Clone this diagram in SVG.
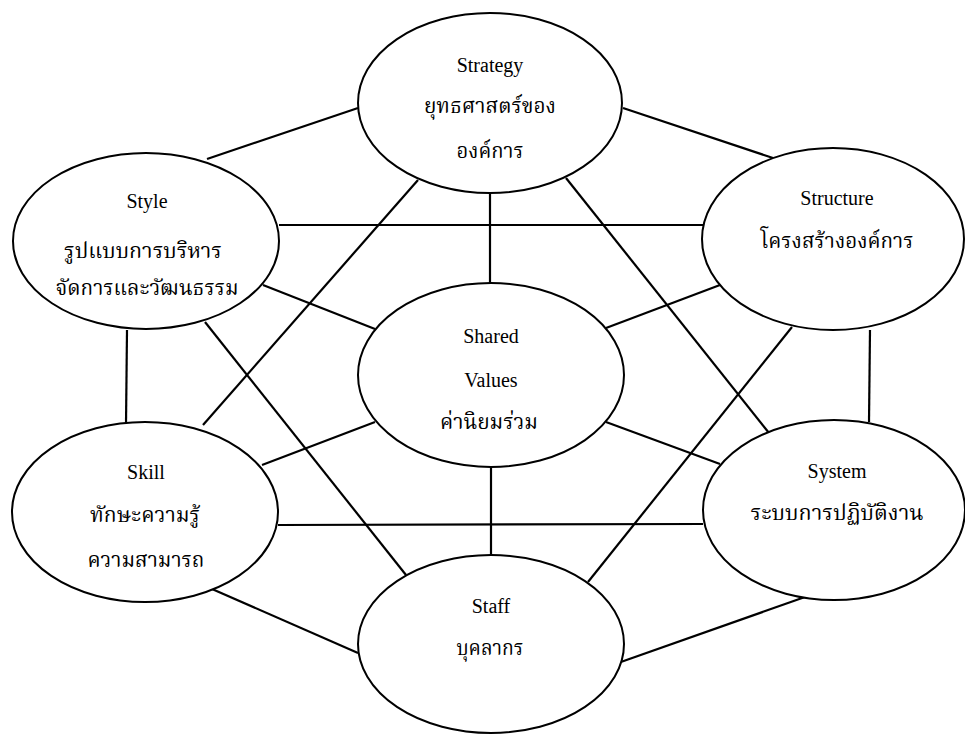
<svg xmlns="http://www.w3.org/2000/svg" width="965" height="734" viewBox="0 0 965 734">
<style>
  .bg { fill: #ffffff; }
  .node ellipse { fill: #ffffff; stroke: #000000; stroke-width: 2; }
  .conn line { stroke: #000000; stroke-width: 2.2; stroke-linecap: butt; }
  .en { font-family: "Liberation Serif", "Times New Roman", serif; font-size: 20px; fill: #000; text-anchor: middle; }
  .th { font-family: "Noto Serif Thai", "Noto Sans Thai", "Liberation Serif", "DejaVu Serif", serif; font-size: 21px; fill: #000; text-anchor: middle; }
</style>
<rect class="bg" x="0" y="0" width="965" height="734"/>
<g id="connectors" class="conn">
  <line x1="207" y1="159" x2="358" y2="108"/>
  <line x1="623" y1="108" x2="773" y2="158"/>
  <line x1="279" y1="225" x2="709" y2="225"/>
  <line x1="490" y1="193" x2="490" y2="283"/>
  <line x1="418" y1="180" x2="203" y2="425"/>
  <line x1="566" y1="178" x2="769" y2="433"/>
  <line x1="263" y1="285" x2="375" y2="329"/>
  <line x1="205" y1="322" x2="406" y2="575"/>
  <line x1="127" y1="330" x2="126" y2="424"/>
  <line x1="720" y1="285" x2="606" y2="328"/>
  <line x1="792" y1="327" x2="588" y2="582"/>
  <line x1="870" y1="330" x2="869" y2="422"/>
  <line x1="375" y1="422" x2="262" y2="465"/>
  <line x1="606" y1="422" x2="720" y2="464"/>
  <line x1="491" y1="467" x2="491" y2="555"/>
  <line x1="278" y1="525" x2="703" y2="524"/>
  <line x1="212" y1="589" x2="358" y2="653"/>
  <line x1="805" y1="597" x2="618" y2="663"/>
</g>
<g id="strategy" class="node">
  <ellipse cx="490" cy="103" rx="132" ry="90"/>
  <text class="en" x="490" y="72">Strategy</text>
  <text class="th" x="490" y="113" textLength="132" lengthAdjust="spacingAndGlyphs">ยุทธศาสตร์ของ</text>
  <text class="th" x="490" y="158" textLength="67" lengthAdjust="spacingAndGlyphs">องค์การ</text>
</g>
<g id="style" class="node">
  <ellipse cx="146" cy="241" rx="133" ry="88"/>
  <text class="en" x="147" y="208">Style</text>
  <text class="th" x="143" y="258" textLength="158" lengthAdjust="spacingAndGlyphs">รูปแบบการบริหาร</text>
  <text class="th" x="147" y="295" textLength="183" lengthAdjust="spacingAndGlyphs">จัดการและวัฒนธรรม</text>
</g>
<g id="structure" class="node">
  <ellipse cx="833" cy="239" rx="131" ry="91"/>
  <text class="en" x="837" y="205">Structure</text>
  <text class="th" x="837" y="248" textLength="153" lengthAdjust="spacingAndGlyphs">โครงสร้างองค์การ</text>
</g>
<g id="shared-values" class="node">
  <ellipse cx="491" cy="375" rx="133" ry="92"/>
  <text class="en" x="491" y="343">Shared</text>
  <text class="en" x="491" y="387">Values</text>
  <text class="th" x="489" y="429" textLength="98" lengthAdjust="spacingAndGlyphs">ค่านิยมร่วม</text>
</g>
<g id="skill" class="node">
  <ellipse cx="145" cy="512" rx="133" ry="90"/>
  <text class="en" x="146" y="479">Skill</text>
  <text class="th" x="145" y="522" textLength="110" lengthAdjust="spacingAndGlyphs">ทักษะความรู้</text>
  <text class="th" x="146" y="567" textLength="117" lengthAdjust="spacingAndGlyphs">ความสามารถ</text>
</g>
<g id="system" class="node">
  <ellipse cx="834" cy="510" rx="131" ry="90"/>
  <text class="en" x="837" y="478">System</text>
  <text class="th" x="837" y="520" textLength="173" lengthAdjust="spacingAndGlyphs">ระบบการปฏิบัติงาน</text>
</g>
<g id="staff" class="node">
  <ellipse cx="491" cy="644" rx="133" ry="89"/>
  <text class="en" x="491" y="613">Staff</text>
  <text class="th" x="490" y="655" textLength="67" lengthAdjust="spacingAndGlyphs">บุคลากร</text>
</g>
</svg>
